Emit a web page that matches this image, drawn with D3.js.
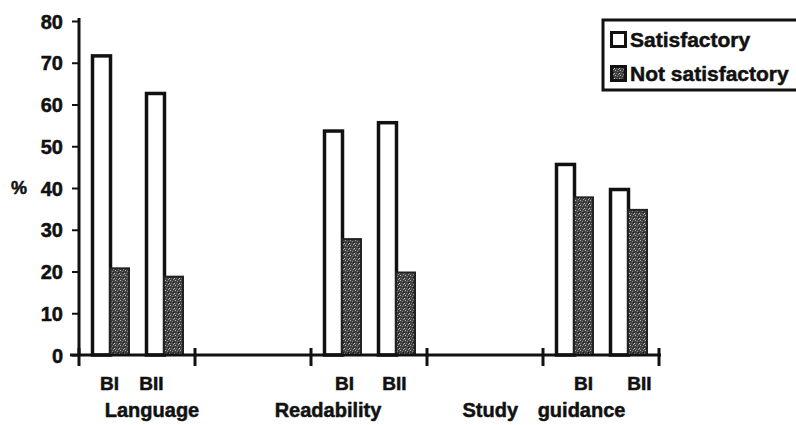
<!DOCTYPE html>
<html>
<head>
<meta charset="utf-8">
<script src="https://cdn.jsdelivr.net/npm/d3@7"></script>
<style>
  html, body { margin: 0; padding: 0; background: #fff; }
  svg { display: block; }
  text { font-family: "Liberation Sans", Arial, sans-serif; font-weight: bold; fill: #111; stroke: #111; stroke-width: 0.5px; }
</style>
</head>
<body>
<svg id="chart" width="796" height="425"></svg>
<script>
// ---- data ----
const slots = ["Language", "gapA", "Readability", "gapB", "Study guidance"];
const categories = ["Language", "Readability", "Study guidance"];
const subgroups = ["BI", "BII"];
const seriesNames = ["Satisfactory", "Not satisfactory"];
const satisfactory = [72, 63, 54, 56, 46, 40];      // BI, BII per category
const notSatisfactory = [21, 19, 28, 20, 38, 35];
const yTicks = [0, 10, 20, 30, 40, 50, 60, 70, 80];

// ---- layout ----
const svg = d3.select("#chart");
const x0 = d3.scaleBand().domain(slots).range([79, 659]);
const x1 = d3.scaleBand().domain(subgroups).range([12, 120]);
const y = d3.scaleLinear().domain([0, 80]).range([355, 21]);
const barW = 21, overlap = 18;
const labelDx = [[-1, -13], [2, -2], [9, 11]];
const groupDx = [15, -41, -57];

// pattern for "not satisfactory"
const defs = svg.append("defs");
const pat = defs.append("pattern").attr("id", "speck")
  .attr("width", 5).attr("height", 5).attr("patternUnits", "userSpaceOnUse");
pat.append("rect").attr("width", 5).attr("height", 5).attr("fill", "#404040");
[[0,0,"#bdbdbd"],[2,1,"#8a8a8a"],[4,3,"#c8c8c8"],[1,3,"#6e6e6e"],[3,4,"#a0a0a0"],[3,2,"#1a1a1a"]]
  .forEach(([px,py,c]) => pat.append("rect").attr("x",px).attr("y",py).attr("width",1).attr("height",1).attr("fill",c));

// bars
const rows = [];
categories.forEach((cat, ci) => {
  subgroups.forEach((sg, si) => {
    rows.push({cat, ci, sg, si, sat: satisfactory[ci*2+si], not: notSatisfactory[ci*2+si]});
  });
});

const g = svg.append("g");
rows.forEach(r => {
  const bx = x0(r.cat) + x1(r.sg);
  g.append("rect")
    .attr("x", bx + 1.5).attr("y", y(r.sat) + 1.5)
    .attr("width", barW - 3).attr("height", y(0) - y(r.sat) - 1.5)
    .attr("fill", "#fff").attr("stroke", "#111").attr("stroke-width", 3.5);
  g.append("rect")
    .attr("x", bx + overlap + 1).attr("y", y(r.not) + 1)
    .attr("width", barW - 2).attr("height", y(0) - y(r.not) - 1)
    .attr("fill", "url(#speck)").attr("stroke", "#222").attr("stroke-width", 2);
  // subgroup label
  g.append("text")
    .attr("x", bx + (barW + overlap) / 2 + labelDx[r.ci][r.si])
    .attr("y", 390)
    .attr("text-anchor", "middle").attr("font-size", 19)
    .text(r.sg);
});

// y axis
const yAxis = d3.axisLeft(y).tickValues(yTicks).tickSize(7).tickPadding(9).tickFormat(d3.format("d"));
const ya = svg.append("g").attr("transform", "translate(79,0)").call(yAxis);
ya.select(".domain").attr("stroke", "#111").attr("stroke-width", 3).attr("d", "M0,18V355");
ya.selectAll(".tick line").attr("stroke", "#111").attr("stroke-width", 2);
ya.selectAll(".tick text").attr("font-size", 20).attr("font-family", "Liberation Sans, Arial, sans-serif")
  .attr("font-weight", "bold").attr("fill", "#111").attr("dy", "0.36em");

svg.append("text").attr("x", 11).attr("y", 194).attr("font-size", 18).text("%");

// x axis
const xa = svg.append("g");
xa.append("line").attr("x1", 70).attr("x2", 661).attr("y1", y(0)).attr("y2", y(0))
  .attr("stroke", "#111").attr("stroke-width", 3);
const bounds = slots.map(s => x0(s)).concat([x0.range()[1]]);
xa.selectAll("line.tk").data(bounds).join("line").attr("class", "tk")
  .attr("x1", d => d).attr("x2", d => d)
  .attr("y1", y(0) - 7).attr("y2", y(0) + 11)
  .attr("stroke", "#111").attr("stroke-width", 3);

// group labels
categories.forEach((cat, ci) => {
  const cx = x0(cat) + x0.bandwidth() / 2 + groupDx[ci];
  const t = svg.append("text").attr("x", cx).attr("y", 417)
    .attr("text-anchor", "middle").attr("font-size", 20);
  const parts = cat.split(" ");
  parts.forEach((p, i) => t.append("tspan").attr("dx", i === 0 ? 0 : 14).text((i ? " " : "") + p));
});

// legend
const lg = svg.append("g");
lg.append("rect").attr("x", 603).attr("y", 20).attr("width", 210).attr("height", 70)
  .attr("fill", "#fff").attr("stroke", "#111").attr("stroke-width", 3);
seriesNames.forEach((s, i) => {
  const yy = 31 + i * 34;
  lg.append("rect").attr("x", 611.5).attr("y", yy + 1.5).attr("width", 14).attr("height", 14)
    .attr("fill", i === 0 ? "#fff" : "url(#speck)")
    .attr("stroke", "#111").attr("stroke-width", 3);
  lg.append("text").attr("x", 630).attr("y", yy + 16).attr("font-size", 21).text(s);
});
</script>
</body>
</html>
